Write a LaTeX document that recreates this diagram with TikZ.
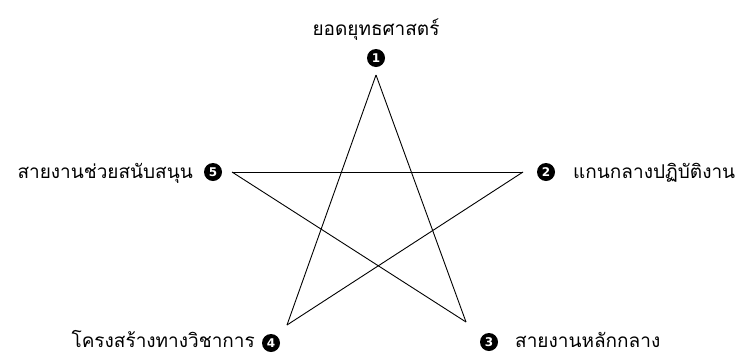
\documentclass[tikz,border=0pt]{standalone}
\usepackage{fontspec}
\newfontfamily\thaifont[Script=Thai]{Loma}
\setmainfont{DejaVu Sans}
\begin{document}
\begin{tikzpicture}[x=1pt,y=-1pt,
  num/.style={circle,fill=black,text=white,inner sep=0pt,minimum size=18pt,font=\fontsize{12}{12}\selectfont\bfseries},
  lbl/.style={font=\thaifont\fontsize{19}{21}\selectfont,inner sep=0pt},
  edge/.style={draw=black,line width=0.9pt}]
\useasboundingbox (0,0) rectangle (738,354);
\coordinate (v1) at (376,75);
\coordinate (v2) at (523,172);
\coordinate (v3) at (466,322);
\coordinate (v4) at (287,325);
\coordinate (v5) at (232,172);
\draw[edge] (v1) -- (v4);
\draw[edge] (v1) -- (v3);
\draw[edge] (v5) -- (v2);
\draw[edge] (v5) -- (v3);
\draw[edge] (v2) -- (v4);
\node[num] (n1) at (376,58) {1};
\node[num] (n2) at (546,172) {2};
\node[num] (n3) at (489,342) {3};
\node[num] (n4) at (271,343) {4};
\node[num] (n5) at (213,172) {5};
\node[lbl,anchor=base] (t1) at (376,35) {ยอดยุทธศาสตร์};
\node[lbl,anchor=base east] (t5) at (193,178) {สายงานช่วยสนับสนุน};
\node[lbl,anchor=base west] (t2) at (573,178) {แกนกลางปฏิบัติงาน};
\node[lbl,anchor=base east] (t4) at (255,347) {โครงสร้างทางวิชาการ};
\node[lbl,anchor=base west] (t3) at (515,347) {สายงานหลักกลาง};
\end{tikzpicture}
\end{document}
